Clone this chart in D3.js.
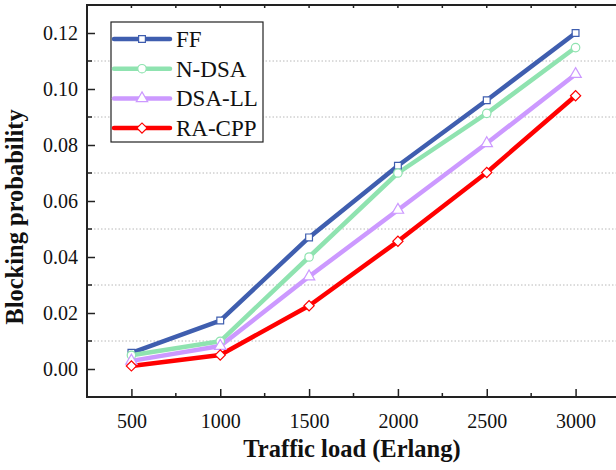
<!DOCTYPE html>
<html>
<head>
<meta charset="utf-8">
<script src="https://cdn.jsdelivr.net/npm/d3@7"></script>
<style>
  body { margin: 0; background: #fff; }
  svg { display: block; }
  svg text { font-family: "Liberation Serif", "Times New Roman", serif; }
</style>
</head>
<body>
<div id="chart"></div>
<script>
// datos
const loads = [500, 1000, 1500, 2000, 2500, 3000];
const seriesNames = ['FF', 'N-DSA', 'DSA-LL', 'RA-CPP'];
const ffValues = [0.0058, 0.0173, 0.047, 0.0726, 0.096, 0.12];
const ndsaValues = [0.0049, 0.0099, 0.04, 0.07, 0.0913, 0.1148];
const dsallValues = [0.0029, 0.0082, 0.033, 0.0568, 0.0806, 0.1053];
const racppValues = [0.0011, 0.005, 0.0226, 0.0456, 0.0702, 0.0976];
const xTicks = [500, 1000, 1500, 2000, 2500, 3000];
const yTicks = [0, 0.02, 0.04, 0.06, 0.08, 0.1, 0.12];

const colors = ['#3f5eaf', '#8fe3b0', '#cc99ff', '#ff0000'];
const symbols = [d3.symbolSquare, d3.symbolCircle, d3.symbolTriangle, d3.symbolSquare];
const symSizes = [46, 56, 56, 52];
const symRotate = [0, 0, 0, 45];
const allValues = [ffValues, ndsaValues, dsallValues, racppValues];

const width = 616, height = 470;
const margin = { top: 5, right: -4, bottom: 73, left: 87 };

const svg = d3.select('#chart').append('svg')
    .attr('width', width)
    .attr('height', height);

const xScale = d3.scaleLinear()
    .domain([250, 3250])
    .range([margin.left, width - margin.right]);

const yScale = d3.scaleLinear()
    .domain([-0.01, 0.13])
    .range([height - margin.bottom, margin.top]);

const x0 = margin.left, x1 = width - margin.right;
const y0 = height - margin.bottom, y1 = margin.top;

// lineas de rejilla punteadas en los ticks menores
const minorY = d3.range(0.01, 0.12, 0.02);
svg.append('g')
    .selectAll('line')
    .data(minorY)
    .enter().append('line')
    .attr('x1', x0).attr('x2', x1)
    .attr('y1', d => yScale(d)).attr('y2', d => yScale(d))
    .attr('stroke', '#b8b8b8')
    .attr('stroke-width', 1)
    .attr('stroke-dasharray', '1.5,2');

// eje Y
const yAxis = svg.append('g')
    .attr('transform', `translate(${x0},0)`)
    .call(d3.axisLeft(yScale).tickValues(yTicks).tickFormat(d3.format('.2f')).tickSize(-8).tickPadding(9));
yAxis.attr('font-family', null);
yAxis.select('.domain').remove();
yAxis.selectAll('text').attr('font-size', 20).attr('fill', '#111');
yAxis.selectAll('line').attr('stroke', '#222').attr('stroke-width', 1.5);

svg.append('g')
    .selectAll('line')
    .data(minorY)
    .enter().append('line')
    .attr('x1', x0).attr('x2', x0 + 5)
    .attr('y1', d => yScale(d)).attr('y2', d => yScale(d))
    .attr('stroke', '#222').attr('stroke-width', 1.5);

// eje X
const xAxis = svg.append('g')
    .attr('transform', `translate(0,${y0})`)
    .call(d3.axisBottom(xScale).tickValues(xTicks).tickFormat(d3.format('d')).tickSize(-8).tickPadding(17));
xAxis.attr('font-family', null);
xAxis.select('.domain').remove();
xAxis.selectAll('text').attr('font-size', 20).attr('fill', '#111');
xAxis.selectAll('line').attr('stroke', '#222').attr('stroke-width', 1.5);

const minorX = [750, 1250, 1750, 2250, 2750];
svg.append('g')
    .selectAll('line')
    .data(minorX)
    .enter().append('line')
    .attr('x1', d => xScale(d)).attr('x2', d => xScale(d))
    .attr('y1', y0).attr('y2', y0 - 4)
    .attr('stroke', '#222').attr('stroke-width', 1.5);

// ticks del borde superior
svg.append('g')
    .selectAll('line')
    .data(xTicks.concat(minorX))
    .enter().append('line')
    .attr('x1', d => xScale(d)).attr('x2', d => xScale(d))
    .attr('y1', y1).attr('y2', y1 + 3)
    .attr('stroke', '#222').attr('stroke-width', 1.5);

// marco
svg.append('path')
    .attr('d', `M${x1},${y1}H${x0}V${y0}H${x1}`)
    .attr('fill', 'none')
    .attr('stroke', '#222')
    .attr('stroke-width', 2);

// series
const line = d3.line()
    .x((d, i) => xScale(loads[i]))
    .y(d => yScale(d));

allValues.forEach((vals, s) => {
    svg.append('path')
        .datum(vals)
        .attr('d', line)
        .attr('fill', 'none')
        .attr('stroke', colors[s])
        .attr('stroke-width', 4.5)
        .attr('stroke-linejoin', 'round');
});

allValues.forEach((vals, s) => {
    svg.append('g')
        .selectAll('path')
        .data(vals)
        .enter().append('path')
        .attr('transform', (d, i) => `translate(${xScale(loads[i])},${yScale(d)}) rotate(${symRotate[s]})`)
        .attr('d', d3.symbol().type(symbols[s]).size(symSizes[s]))
        .attr('fill', '#fff')
        .attr('stroke', colors[s])
        .attr('stroke-width', 1.2);
});

// leyenda
const legend = svg.append('g');
legend.append('rect')
    .attr('x', 111).attr('y', 22)
    .attr('width', 152).attr('height', 120)
    .attr('fill', '#fff')
    .attr('stroke', '#222')
    .attr('stroke-width', 1.2);

seriesNames.forEach((name, s) => {
    const ly = 39 + s * 29.7;
    legend.append('line')
        .attr('x1', 114).attr('x2', 170)
        .attr('y1', ly).attr('y2', ly)
        .attr('stroke', colors[s])
        .attr('stroke-width', 4.5)
        .attr('stroke-linecap', 'round');
    legend.append('path')
        .attr('transform', `translate(142,${ly}) rotate(${symRotate[s]})`)
        .attr('d', d3.symbol().type(symbols[s]).size(symSizes[s]))
        .attr('fill', '#fff')
        .attr('stroke', colors[s])
        .attr('stroke-width', 1.2);
    legend.append('text')
        .attr('x', 176)
        .attr('y', ly + 8)
        .attr('font-size', 23)
        .attr('fill', '#111')
        .text(name);
});

// titulos de ejes
svg.append('text')
    .attr('x', 352)
    .attr('y', 457)
    .attr('text-anchor', 'middle')
    .attr('font-size', 24.5)
    .attr('font-weight', 'bold')
    .attr('fill', '#111')
    .text('Traffic load (Erlang)');

svg.append('text')
    .attr('transform', 'translate(23,217) rotate(-90)')
    .attr('text-anchor', 'middle')
    .attr('font-size', 24.5)
    .attr('font-weight', 'bold')
    .attr('fill', '#111')
    .text('Blocking probability');
</script>
</body>
</html>
